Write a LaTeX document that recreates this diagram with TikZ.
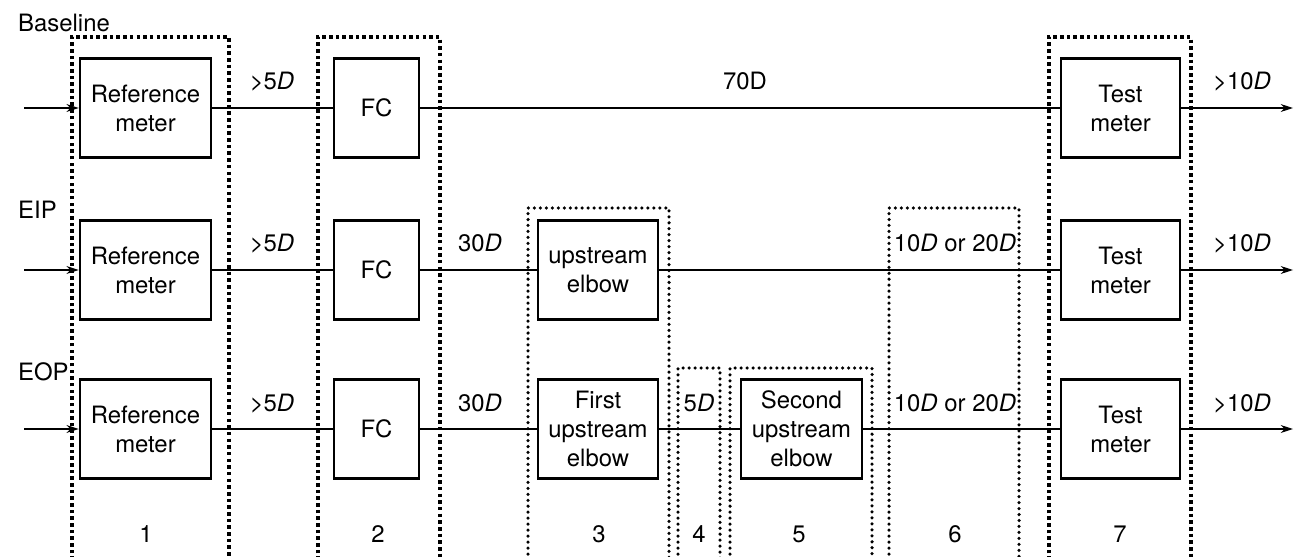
\documentclass[tikz,border=0pt]{standalone}
\usepackage{fontspec}
\setmainfont{TeX Gyre Heros}
\usetikzlibrary{arrows.meta}

\begin{document}
\begin{tikzpicture}[x=0.02cm, y=-0.02cm,
  every node/.style={font=\fontsize{13.6}{16.5}\selectfont},
  unit/.style={draw, line width=1.4pt, align=center, minimum height=1.98cm, inner sep=0pt},
  pipe/.style={line width=0.75pt},
  flow/.style={pipe, -{Stealth[length=7pt, width=4.5pt]}},
  zone/.style={line width=1.9pt, dash pattern=on 2pt off 1.8pt},
  subzone/.style={line width=2pt, line cap=round, dash pattern=on 0pt off 3.4pt},
  dist/.style={anchor=base},
]
  \useasboundingbox (0,0) rectangle (1294,557);

  % Test sections (dotted)
  \draw[zone] (72,560) -- (72,37) -- (229,37) -- (229,560);
  \draw[zone] (318,560) -- (318,37) -- (440,37) -- (440,560);
  \draw[subzone] (528,560) -- (528,208) -- (669,208) -- (669,560);
  \draw[subzone] (678,560) -- (678,368) -- (720,368) -- (720,560);
  \draw[subzone] (730,560) -- (730,368) -- (872,368) -- (872,560);
  \draw[subzone] (889,560) -- (889,208) -- (1019,208) -- (1019,560);
  \draw[zone] (1049,560) -- (1049,37) -- (1191,37) -- (1191,560);

  % Baseline
  \node[anchor=base west] (lbl-base) at (12,32) {Baseline};
  \coordinate (in-base) at (24,108);
  \coordinate (out-base) at (1293,108);
  \node[unit, minimum width=2.62cm] (ref-base) at (145.5,108) {Reference\\meter};
  \node[unit, minimum width=1.7cm] (fc-base) at (376.5,108) {FC};
  \node[unit, minimum width=2.38cm] (test-base) at (1120.5,108) {Test\\meter};
  \draw[flow] (in-base) -- (ref-base);
  \draw[pipe] (ref-base) -- (fc-base) -- (test-base);
  \draw[flow] (test-base) -- (out-base);
  \node[dist] (d1-base) at (272,90) {>5\textit{D}};
  \node[dist] (d2-base) at (745,90) {70D};
  \node[dist] (d7-base) at (1242,90) {>10\textit{D}};

  % EIP
  \node[anchor=base west] (lbl-eip) at (12,218) {EIP};
  \coordinate (in-eip) at (24,270);
  \coordinate (out-eip) at (1293,270);
  \node[unit, minimum width=2.62cm] (ref-eip) at (145.5,270) {Reference\\meter};
  \node[unit, minimum width=1.7cm] (fc-eip) at (376.5,270) {FC};
  \node[unit, minimum width=2.4cm] (elb-eip) at (598,270) {upstream\\elbow};
  \node[unit, minimum width=2.38cm] (test-eip) at (1120.5,270) {Test\\meter};
  \draw[flow] (in-eip) -- (ref-eip);
  \draw[pipe] (ref-eip) -- (fc-eip) -- (elb-eip) -- (test-eip);
  \draw[flow] (test-eip) -- (out-eip);
  \node[dist] (d1-eip) at (272,252) {>5\textit{D}};
  \node[dist] (d2-eip) at (480,252) {30\textit{D}};
  \node[dist] (d6-eip) at (955,252) {10\textit{D} or 20\textit{D}};
  \node[dist] (d7-eip) at (1242,252) {>10\textit{D}};

  % EOP
  \node[anchor=base west] (lbl-eop) at (12,380) {EOP};
  \coordinate (in-eop) at (24,429);
  \coordinate (out-eop) at (1293,429);
  \node[unit, minimum width=2.62cm] (ref-eop) at (145.5,429) {Reference\\meter};
  \node[unit, minimum width=1.7cm] (fc-eop) at (376.5,429) {FC};
  \node[unit, minimum width=2.4cm] (elb1-eop) at (598,429) {First\\upstream\\elbow};
  \node[unit, minimum width=2.42cm] (elb2-eop) at (801.5,429) {Second\\upstream\\elbow};
  \node[unit, minimum width=2.38cm] (test-eop) at (1120.5,429) {Test\\meter};
  \draw[flow] (in-eop) -- (ref-eop);
  \draw[pipe] (ref-eop) -- (fc-eop) -- (elb1-eop) -- (elb2-eop) -- (test-eop);
  \draw[flow] (test-eop) -- (out-eop);
  \node[dist] (d1-eop) at (272,411) {>5\textit{D}};
  \node[dist] (d2-eop) at (480,411) {30\textit{D}};
  \node[dist] (d4-eop) at (699,411) {5\textit{D}};
  \node[dist] (d6-eop) at (955,411) {10\textit{D} or 20\textit{D}};
  \node[dist] (d7-eop) at (1242,411) {>10\textit{D}};

  % Section numbers
  \node[dist] (n1) at (146,542) {1};
  \node[dist] (n2) at (378,542) {2};
  \node[dist] (n3) at (599,542) {3};
  \node[dist] (n4) at (699,542) {4};
  \node[dist] (n5) at (799,542) {5};
  \node[dist] (n6) at (955,542) {6};
  \node[dist] (n7) at (1120,542) {7};
\end{tikzpicture}
\end{document}
